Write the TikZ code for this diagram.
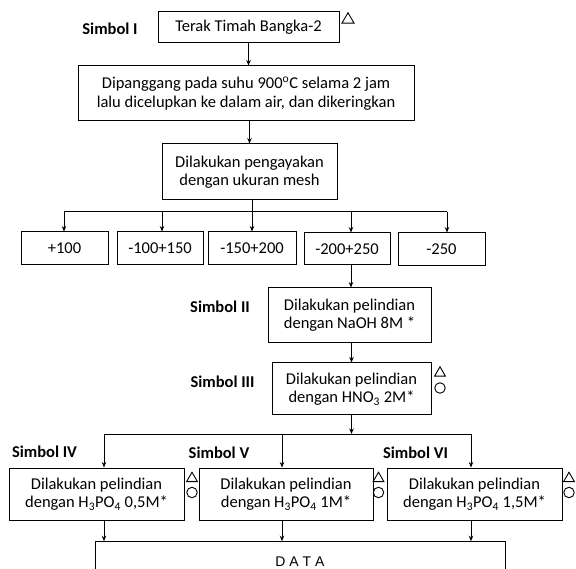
\documentclass[tikz,border=0pt]{standalone}
\usepackage{fontspec}
\setmainfont{Carlito}
\newfontfamily\datafont{Liberation Sans}
\usetikzlibrary{shapes.geometric,arrows.meta}

\begin{document}
\begin{tikzpicture}[x=1pt,y=-1pt,>={Stealth[length=5.5pt,width=4.5pt]},
    kotak/.style={draw,line width=1pt,inner sep=0pt,align=center,font=\fontsize{16.5}{18.3}\selectfont},
    simbol/.style={inner sep=0pt,font=\fontsize{16.5}{18.3}\selectfont\bfseries},
    panah/.style={->,line width=1pt},
    garis/.style={line width=1pt},
    segitiga/.style={draw,regular polygon,regular polygon sides=3,minimum size=12.5pt,inner sep=0pt,line width=0.9pt},
    bulat/.style={draw,circle,minimum size=10.5pt,inner sep=0pt,line width=0.9pt}]
    \useasboundingbox (0,0) rectangle (576,569);
    \clip (0,0) rectangle (576,569);

    % bahan awal dan perlakuan
    \node[kotak,minimum width=181pt,minimum height=31pt] (terak) at (248.5,27.5) {Terak Timah Bangka-2};
    \node[kotak,minimum width=336pt,minimum height=55pt] (panggang) at (246,93.5) {Dipanggang pada suhu 900\textsuperscript{o}C selama 2 jam\\lalu dicelupkan ke dalam air, dan dikeringkan};
    \node[kotak,minimum width=175pt,minimum height=56pt] (ayak) at (249.5,172) {Dilakukan pengayakan\\dengan ukuran mesh};

    % ukuran mesh
    \node[kotak,minimum width=87pt,minimum height=33pt] (p100) at (64.5,248.5) {+100};
    \node[kotak,minimum width=86pt,minimum height=33pt] (m100) at (160,248.5) {-100+150};
    \node[kotak,minimum width=88pt,minimum height=33pt] (m150) at (252,248.5) {-150+200};
    \node[kotak,minimum width=86pt,minimum height=32pt] (m200) at (347,249) {-200+250};
    \node[kotak,minimum width=87pt,minimum height=33pt] (m250) at (441.5,249.5) {-250};

    % pelindian
    \node[kotak,minimum width=163pt,minimum height=55pt] (naoh) at (349.5,315.5) {Dilakukan pelindian\\dengan NaOH 8M *};
    \node[kotak,minimum width=159pt,minimum height=52pt] (hno3) at (351.5,389) {Dilakukan pelindian\\dengan HNO\textsubscript{3} 2M*};
    \node[kotak,minimum width=175pt,minimum height=52pt] (ph05) at (96.5,494) {Dilakukan pelindian\\dengan H\textsubscript{3}PO\textsubscript{4} 0,5M*};
    \node[kotak,minimum width=174pt,minimum height=52pt] (ph1) at (286,494) {Dilakukan pelindian\\dengan H\textsubscript{3}PO\textsubscript{4} 1M*};
    \node[kotak,minimum width=175pt,minimum height=52pt] (ph15) at (474.5,494) {Dilakukan pelindian\\dengan H\textsubscript{3}PO\textsubscript{4} 1,5M*};

    \node[kotak,minimum width=410pt,minimum height=40pt,font=\datafont\fontsize{14}{16}\selectfont] (data) at (300,561.7) {D A T A};

    % label simbol
    \node[simbol] (s1) at (110,29) {Simbol I};
    \node[simbol] (s2) at (220,307) {Simbol II};
    \node[simbol] (s3) at (222.5,382) {Simbol III};
    \node[simbol] (s4) at (44.5,452) {Simbol IV};
    \node[simbol] (s5) at (219,453) {Simbol V};
    \node[simbol] (s6) at (415.5,453) {Simbol VI};

    % tanda segitiga dan lingkaran
    \node[segitiga,minimum size=14pt] (t1) at (348,19.7) {};
    \node[segitiga] (t3) at (440,373) {};
    \node[bulat] (b3) at (440,388) {};
    \foreach \x/\n in {192/4,378.5/5,569/6} {
        \node[segitiga] (t\n) at (\x,478.5) {};
        \node[bulat] (b\n) at (\x,492.5) {};
    }

    % panah
    \draw[panah] (terak.south) -- (terak.south |- panggang.north);
    \draw[panah] (ayak.north |- panggang.south) -- (ayak.north);
    \coordinate (cabang1) at (0,212);
    \draw[garis] ([xshift=-0.5pt]p100.north |- cabang1) -- ([xshift=5.5pt]m250.north |- cabang1);
    \draw[panah] (m150.north |- ayak.south) -- (m150.north);
    \foreach \k/\s in {p100/-0.5,m100/2,m200/4,m250/5.5}
        \draw[panah] ([xshift=\s pt]\k.north |- cabang1) -- ([xshift=\s pt]\k.north);
    \draw[panah] ([xshift=4pt]m200.south) -- ([xshift=4pt]m200.south |- naoh.north);
    \draw[panah] (hno3.north |- naoh.south) -- (hno3.north);

    \coordinate (cabang2) at (0,434);
    \draw[panah] (hno3.south) -- (hno3.south |- cabang2);
    \draw[garis] ([xshift=7.5pt]ph05.north |- cabang2) -- ([xshift=-3.5pt]ph15.north |- cabang2);
    \foreach \k/\s in {ph05/7.5,ph1/-4,ph15/-3.5} {
        \draw[panah] ([xshift=\s pt]\k.north |- cabang2) -- ([xshift=\s pt]\k.north);
        \draw[panah] ([xshift=\s pt]\k.south) -- ([xshift=\s pt]\k.south |- data.north);
    }
\end{tikzpicture}
\end{document}
